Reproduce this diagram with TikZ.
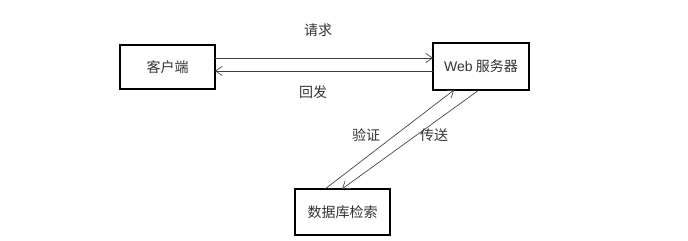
\documentclass[tikz,border=0pt]{standalone}
\usepackage{fontspec}
\setmainfont{Liberation Sans}
\newfontfamily\cjk{Noto Sans CJK SC}
\usetikzlibrary{arrows.meta}
\begin{document}
\begin{tikzpicture}[x=0.75pt,y=-0.75pt,
  box/.style={draw=black,line width=1.2pt,inner sep=0pt,font=\cjk\fontsize{10.5}{12}\selectfont,text=black!80},
  conn/.style={draw=black!75,line width=0.5pt,-{Straight Barb[length=5pt,width=7pt]}},
  lbl/.style={font=\cjk\fontsize{10.5}{12}\selectfont,text=black!80,inner sep=0pt}]
\useasboundingbox (0,0) rectangle (688,241);
\node[box,minimum width=95*0.75pt,minimum height=44*0.75pt] (client) at (167.5,67) {客户端};
\node[box,minimum width=96*0.75pt,minimum height=47*0.75pt] (web) at (481,66.5) {{\fontspec{Liberation Sans}Web} 服务器};
\node[box,minimum width=95*0.75pt,minimum height=46*0.75pt] (db) at (342.5,212) {数据库检索};
\coordinate (a1) at (215,58); \coordinate (a2) at (433,58);
\coordinate (b1) at (433,71); \coordinate (b2) at (215,71);
\coordinate (c1) at (325,189); \coordinate (c2) at (454,90);
\coordinate (d1) at (479,90); \coordinate (d2) at (342,189);
\draw[conn] (a1) -- (a2);
\draw[conn] (b1) -- (b2);
\draw[conn] (c1) -- (c2);
\draw[conn] (d1) -- (d2);
\node[lbl] (req) at (318,30) {请求};
\node[lbl] (resp) at (313,92) {回发};
\node[lbl] (verify) at (366,135) {验证};
\node[lbl] (send) at (434,135) {传送};
\end{tikzpicture}
\end{document}
